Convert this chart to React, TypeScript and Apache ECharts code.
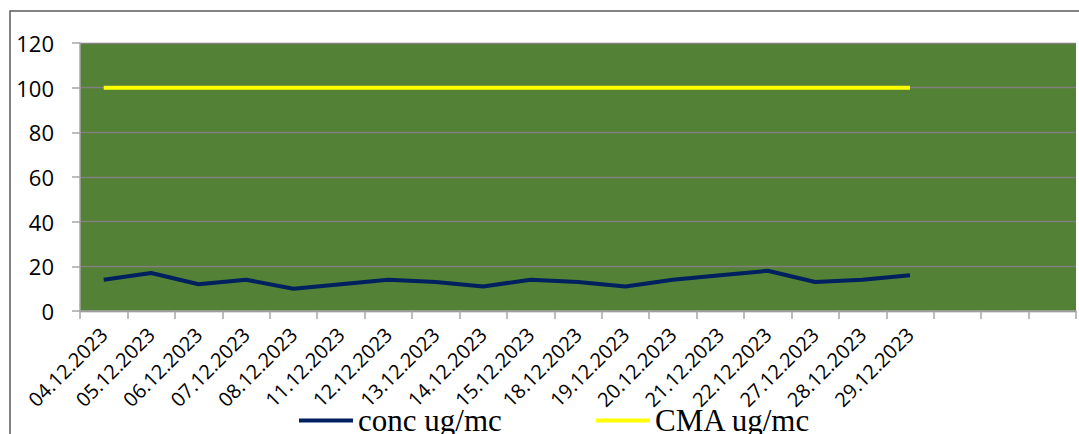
import React, { useEffect, useRef } from "react";
import * as echarts from "echarts";

const categories = [
  "04.12.2023", "05.12.2023", "06.12.2023", "07.12.2023", "08.12.2023",
  "11.12.2023", "12.12.2023", "13.12.2023", "14.12.2023", "15.12.2023",
  "18.12.2023", "19.12.2023", "20.12.2023", "21.12.2023", "22.12.2023",
  "27.12.2023", "28.12.2023", "29.12.2023", "", "", "",
];
const concValues = [14, 17, 12, 14, 10, 12, 14, 13, 11, 14, 13, 11, 14, 16, 18, 13, 14, 16];
const cmaValues = [100, 100, 100, 100, 100, 100, 100, 100, 100, 100, 100, 100, 100, 100, 100, 100, 100, 100];
const seriesNames = ["conc ug/mc", "CMA ug/mc"];
const yTicks = { min: 0, max: 120, interval: 20 };

export default function App() {
  const ref = useRef<HTMLDivElement>(null);
  useEffect(() => {
    if (!ref.current) return;
    const chart = echarts.init(ref.current, null, { renderer: "svg" });
    const legendText = { fontFamily: "Liberation Serif", fontSize: 31, color: "#000" };
    chart.setOption({
      animation: false,
      backgroundColor: "#fff",
      graphic: [
        {
          type: "rect",
          shape: { x: 10, y: 11, width: 1200, height: 600 },
          style: { fill: "none", stroke: "#595959", lineWidth: 1.5 },
          z: 0,
        },
      ],
      grid: {
        left: 80,
        top: 43,
        right: 3,
        bottom: 123,
        show: true,
        backgroundColor: "#538135",
        borderWidth: 0,
      },
      legend: [
        {
          left: 294,
          top: 400,
          data: [seriesNames[0]],
          icon: "rect",
          itemWidth: 54,
          itemHeight: 4,
          textStyle: legendText,
        },
        {
          left: 591,
          top: 400,
          data: [seriesNames[1]],
          icon: "rect",
          itemWidth: 54,
          itemHeight: 4,
          textStyle: legendText,
        },
      ],
      xAxis: {
        type: "category",
        data: categories,
        boundaryGap: true,
        axisLine: { show: true, lineStyle: { color: "#A6A6A6", width: 1.5 } },
        axisTick: { show: true, length: 8, interval: 0, lineStyle: { color: "#A6A6A6", width: 1.5 } },
        axisLabel: { fontFamily: "Open Sans", fontSize: 20, color: "#000", rotate: 45, interval: 0, margin: 20 },
        splitLine: { show: false },
      },
      yAxis: {
        type: "value",
        min: yTicks.min,
        max: yTicks.max,
        interval: yTicks.interval,
        axisLine: { show: true, lineStyle: { color: "#A6A6A6", width: 1.5 } },
        axisTick: { show: true, length: 8, lineStyle: { color: "#A6A6A6", width: 1.5 } },
        axisLabel: { fontFamily: "Open Sans", fontSize: 22, color: "#000", margin: 26 },
        splitLine: { show: true, lineStyle: { color: "#808080", width: 1.3 } },
      },
      series: [
        {
          name: seriesNames[0],
          type: "line",
          data: concValues,
          symbol: "none",
          lineStyle: { color: "#002060", width: 4 },
          itemStyle: { color: "#002060" },
          z: 3,
        },
        {
          name: seriesNames[1],
          type: "line",
          data: cmaValues,
          symbol: "none",
          lineStyle: { color: "#FFFF00", width: 4 },
          itemStyle: { color: "#FFFF00" },
          z: 3,
        },
      ],
    });
    return () => chart.dispose();
  }, []);
  return (
    <div
      ref={ref}
      style={{ position: "fixed", left: 0, top: 0, width: 1079, height: 434 }}
    />
  );
}
